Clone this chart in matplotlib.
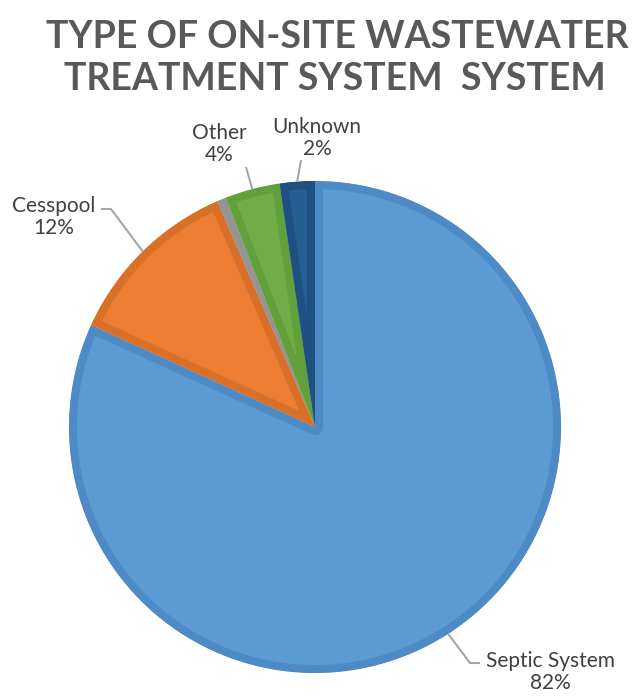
import math
import matplotlib.pyplot as plt

# values (percent)
categories = ['Septic System', 'Cesspool', '', 'Other', 'Unknown']
shares = [81.8, 11.7, 0.6, 3.6, 2.3]
shown = ['82%', '12%', '', '4%', '2%']

fills = ['#5B9BD5', '#ED7D31', '#A5A5A5', '#70AD47', '#255E91']
edges = ['#4D8AC6', '#D8702A', '#949494', '#62A03C', '#1F5082']

W, H = 635, 698
fig = plt.figure(figsize=(W / 100, H / 100), dpi=100)
ax = fig.add_axes([0, 0, 1, 1])

cx, cy, r = 315, H - 427, 246
wedges, _ = ax.pie(shares, colors=fills, startangle=90, counterclock=False,
                   center=(cx, cy), radius=r, frame=True)
ax.set_xlim(0, W)
ax.set_ylim(0, H)
ax.set_aspect('equal')
ax.axis('off')
# inner border: stroke clipped to the wedge itself
for w, ec in zip(wedges, edges):
    w.set_edgecolor(ec)
    w.set_linewidth(11.5)
    w.set_joinstyle('round')
    w.set_clip_on(True)
    w.set_clip_path(w)

# label layout: elbow point, end of leader, text centre (pixels from top)
layout = {
    0: ((470, 663), (480, 663), (550, 672)),
    1: ((111, 209), (101, 209), (54, 217)),
    3: ((246, 167), (246, 167), (219, 144)),
    4: ((301, 160), (301, 160), (317, 138)),
}

for i, w in enumerate(wedges):
    if i not in layout:
        continue
    mid = math.radians((w.theta1 + w.theta2) / 2)
    x0 = cx + r * math.cos(mid)
    y0 = cy + r * math.sin(mid)
    elbow, end, txt = layout[i]
    ax.plot([x0, elbow[0], end[0]], [y0, H - elbow[1], H - end[1]],
            color='#A6A6A6', lw=1.5, zorder=3, solid_capstyle='butt')
    ax.text(txt[0], H - txt[1], categories[i] + '\n' + shown[i],
            ha='center', va='center', fontsize=15, color='#404040',
            family='Lato', linespacing=1.15)

fig.text(0.531, 1 - 48 / H, 'TYPE OF ON-SITE WASTEWATER',
         ha='center', va='baseline', fontsize=27, fontweight='bold',
         color='#595959', family='Lato')
fig.text(0.528, 1 - 90 / H, 'TREATMENT SYSTEM  SYSTEM',
         ha='center', va='baseline', fontsize=27, fontweight='bold',
         color='#595959', family='Lato')

fig.savefig('out.png', dpi=100)
